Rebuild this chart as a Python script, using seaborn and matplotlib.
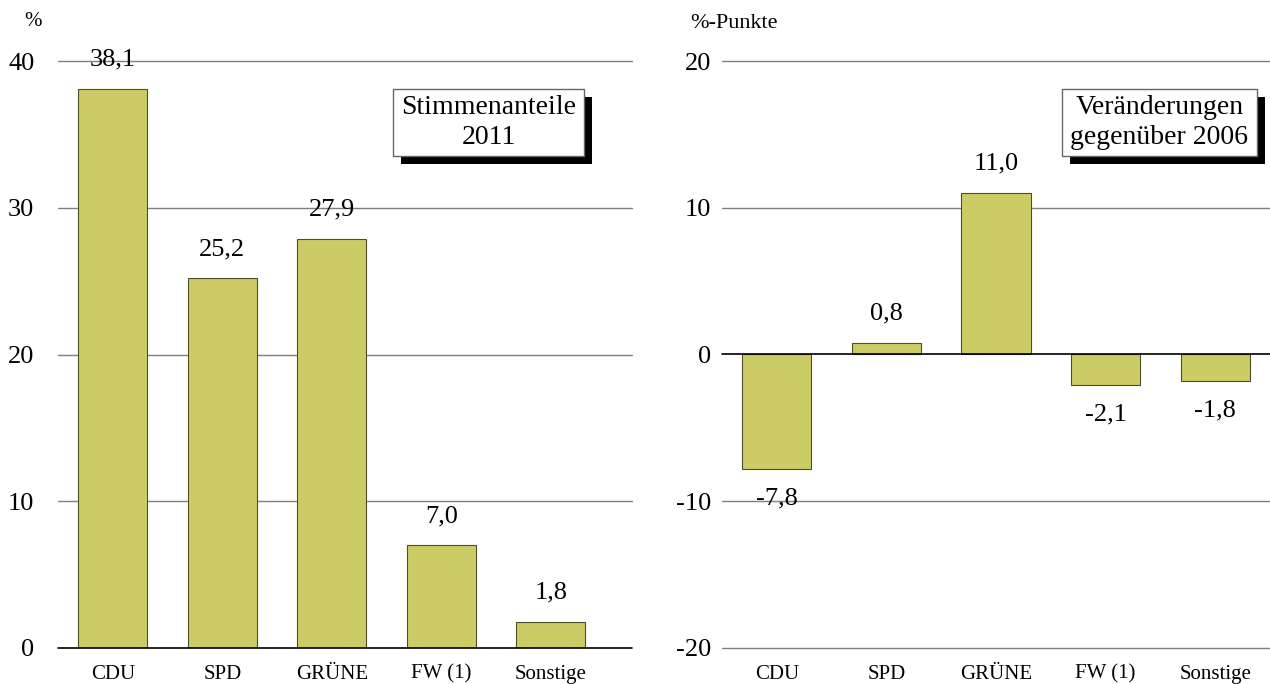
import matplotlib
matplotlib.use("Agg")
import matplotlib.pyplot as plt
import seaborn as sns
import pandas as pd
from matplotlib.patches import Rectangle

categories = ["CDU", "SPD", "GRÜNE", "FW (1)", "Sonstige"]
shares_2011 = [38.1, 25.2, 27.9, 7.0, 1.8]
change_vs_2006 = [-7.8, 0.8, 11.0, -2.1, -1.8]
left_ticks = [0, 10, 20, 30, 40]
right_ticks = [-20, -10, 0, 10, 20]
left_title = "Stimmenanteile\n2011"
right_title = "Veränderungen\ngegenüber 2006"

sns.set_style("white")
plt.rcParams["font.family"] = ["Liberation Serif", "DejaVu Serif"]
plt.rcParams["text.color"] = "black"
plt.rcParams["xtick.color"] = "black"
plt.rcParams["ytick.color"] = "black"

BAR = "#CCCC66"
EDGE = "#4d4d2a"
GRID = "#7f7f7f"

fig = plt.figure(figsize=(12.7, 6.84), dpi=100)
axL = fig.add_axes([58/1270, 1-648/684, 574/1270, 587/684])
axR = fig.add_axes([722/1270, 1-648/684, 548/1270, 587/684])

def draw(ax, vals, ticks, lim, pad, xmax):
    df = pd.DataFrame({"cat": categories, "val": vals})
    sns.barplot(data=df, x="cat", y="val", ax=ax, color=BAR, width=0.63,
                edgecolor=EDGE, linewidth=0.8, saturation=1, zorder=3)
    ax.set_ylim(*lim)
    ax.set_xlim(-0.5, xmax)
    ax.set_yticks(ticks)
    ax.set_yticklabels([str(t) for t in ticks], fontsize=19, color="black")
    ax.tick_params(axis="y", length=0, pad=pad)
    ax.tick_params(axis="x", length=0, pad=12, labelsize=15, labelcolor="black")
    ax.set_xlabel("")
    ax.set_ylabel("")
    for s in ax.spines.values():
        s.set_visible(False)
    for t in ticks:
        if t == 0:
            ax.axhline(t, color="black", lw=1.2, zorder=4, clip_on=False)
        else:
            ax.axhline(t, color=GRID, lw=1, zorder=1, clip_on=False)
    for i, v in enumerate(vals):
        off = 21 if v >= 0 else -21
        ax.annotate(f"{v:.1f}".replace(".", ","), (i, v), xytext=(0, off),
                    textcoords="offset points", ha="center", va="center",
                    fontsize=19, zorder=5, color="black")

draw(axL, shares_2011, left_ticks, (0, 40), 17, 4.74)
draw(axR, change_vs_2006, right_ticks, (-20, 20), 8, 4.5)

fig.text(33/1270, 1-22/684, "%", fontsize=15, ha="center", va="center")
fig.text(690/1270, 1-24/684, "%-Punkte", fontsize=16, ha="left", va="center")

def box(x0, y0, x1, y1, text):
    W, H = 1270, 684
    sh = Rectangle(((x0+8)/W, 1-(y1+8)/H), (x1-x0)/W, (y1-y0)/H,
                   transform=fig.transFigure, facecolor="black", edgecolor="none", zorder=10)
    bx = Rectangle((x0/W, 1-y1/H), (x1-x0)/W, (y1-y0)/H,
                   transform=fig.transFigure, facecolor="white", edgecolor="#666666",
                   lw=1, zorder=11)
    fig.add_artist(sh)
    fig.add_artist(bx)
    fig.text((x0+x1)/2/W, 1-(y0+y1)/2/H, text, ha="center", va="center",
             fontsize=20, linespacing=1.25, zorder=12)

box(393, 89, 584, 156, left_title)
box(1062, 89, 1257, 156, right_title)

fig.savefig("out.png", dpi=100)
